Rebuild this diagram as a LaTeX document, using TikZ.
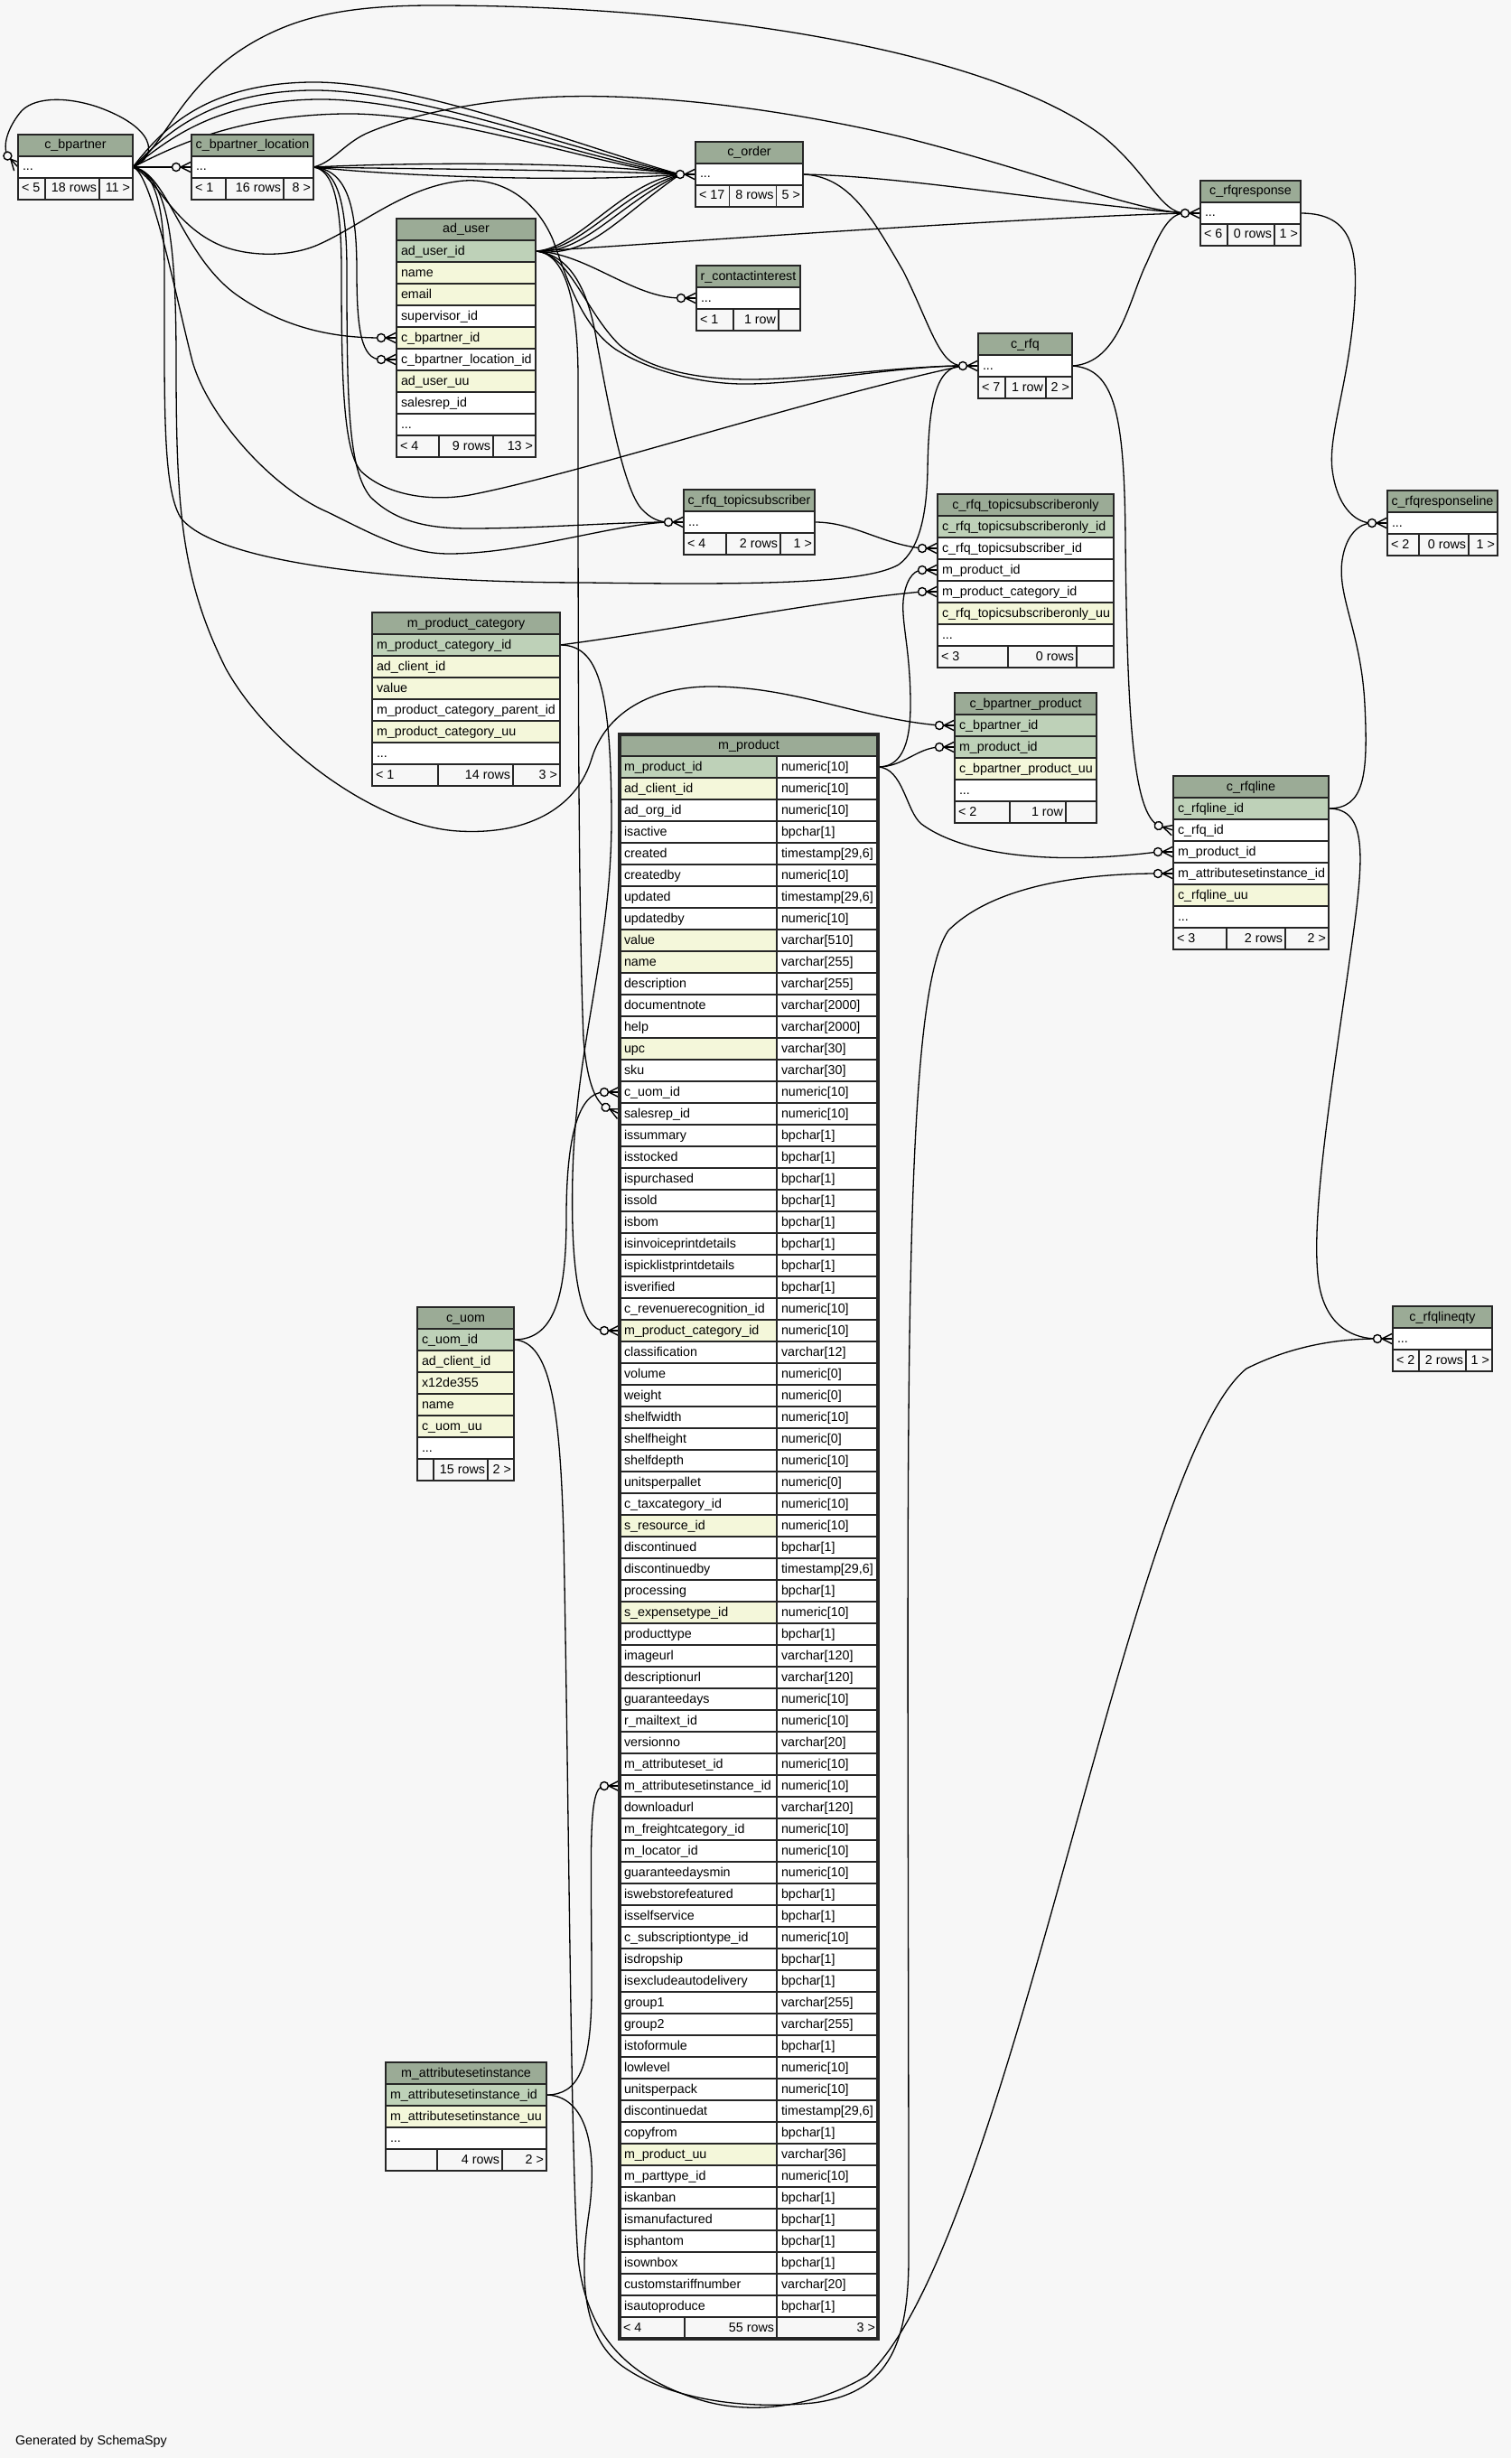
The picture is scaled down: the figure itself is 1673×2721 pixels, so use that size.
\documentclass[tikz,border=0pt]{standalone}
\usepackage{fontspec}
\setmainfont{Liberation Sans}
\definecolor{bgc}{HTML}{F7F7F7}
\definecolor{hdc}{HTML}{9BAB96}
\definecolor{pkc}{HTML}{BED1B8}
\definecolor{ixc}{HTML}{F4F7DA}
\definecolor{ftc}{HTML}{F7F7F7}
\tikzset{
  txt/.style={inner sep=0pt, outer sep=0pt, font=\fontsize{14.3}{16}\selectfont},
  cellline/.style={draw=black!85, line width=1.1pt},
  fk/.style={draw=black, line width=1.3pt},
  tframe/.style={draw=black!85, line width=1.6pt, inner sep=0pt, outer sep=0pt, anchor=north west},
  crowodot/.pic={
    \draw[line width=1.4pt] (-12.5,0) -- (0,0);
    \draw[line width=1.4pt] (-12,0) -- (0,-6);
    \draw[line width=1.4pt] (-12,0) -- (0,6);
    \draw[line width=1.4pt, fill=bgc] (-17,0) circle[radius=4.5pt];
  }
}
\newcommand{\tbhead}[5]{%
  \filldraw[fill=hdc, cellline] (#2,#4) rectangle (#3,#4+24);
  \node[txt, anchor=base] (#1) at ({(#2+#3)/2},#4+16) {#5};}
\newcommand{\tbrow}[6]{%
  \filldraw[fill=#5, cellline] (#2,#4) rectangle (#3,#4+24);
  \node[txt, anchor=base west] (#1) at (#2+5,#4+16) {#6};}
\newcommand{\tbfoot}[9]{%
  \filldraw[fill=ftc, cellline] (#2,#6) rectangle (#3,#6+24);
  \filldraw[fill=ftc, cellline] (#3,#6) rectangle (#4,#6+24);
  \filldraw[fill=ftc, cellline] (#4,#6) rectangle (#5,#6+24);
  \node[txt, anchor=base west] (#1-l) at (#2+4,#6+16) {#7};
  \node[txt, anchor=base east] (#1-m) at (#4-3,#6+16) {#8};
  \node[txt, anchor=base east] (#1-r) at (#5-3,#6+16) {#9};}
\newcommand{\mprow}[4]{%
  \pgfmathsetmacro{\mpyy}{837+24*#1}
  \filldraw[fill=#2, cellline] (686,\mpyy) rectangle (860,\mpyy+24);
  \filldraw[fill=white, cellline] (860,\mpyy) rectangle (972,\mpyy+24);
  \node[txt, anchor=base west] (mp-n#1) at (691,\mpyy+16) {#3};
  \node[txt, anchor=base west] (mp-t#1) at (865,\mpyy+16) {#4};}
\begin{document}
\catcode`\_=12
\begin{tikzpicture}[x=1pt,y=-1pt]
\useasboundingbox (0,0) rectangle (1673,2721);
\fill[bgc] (0,0) rectangle (1673,2721);

% parent ports
\coordinate (bpR) at (147,185);
\coordinate (bplR) at (347,185);
\coordinate (auR) at (593,278);
\coordinate (ordR) at (889,193);
\coordinate (rfqR) at (1187,405);
\coordinate (rfqrR) at (1440,236);
\coordinate (rfqlR) at (1471,895);
\coordinate (tsR) at (902,578);
\coordinate (mpcR) at (620,714);
\coordinate (mpR) at (972,849);
\coordinate (uomR) at (569,1483);
\coordinate (asiR) at (605,2319);
% child ports and circle centres
\coordinate (bpP) at (20,185);     \coordinate (bpC) at (8.4,172.6);
\coordinate (bplP) at (212,185);   \coordinate (bplC) at (195,185);
\coordinate (auBPp) at (439,374);  \coordinate (auBPc) at (422,374);
\coordinate (auBLp) at (439,398);  \coordinate (auBLc) at (422,398);
\coordinate (ordP) at (770,193);   \coordinate (ordC) at (753,193);
\coordinate (rciP) at (771,330);   \coordinate (rciC) at (754,330);
\coordinate (rfqrP) at (1329,236); \coordinate (rfqrC) at (1312,236);
\coordinate (rfqP) at (1083,405);  \coordinate (rfqC) at (1066,405);
\coordinate (tsP) at (757,578);    \coordinate (tsC) at (740,578);
\coordinate (tsoTSp) at (1038,607); \coordinate (tsoTSc) at (1021,607);
\coordinate (tsoMPp) at (1038,631); \coordinate (tsoMPc) at (1021,631);
\coordinate (tsoMCp) at (1038,655); \coordinate (tsoMCc) at (1021,655);
\coordinate (bppBPp) at (1057,803); \coordinate (bppBPc) at (1040,803);
\coordinate (bppMPp) at (1057,827); \coordinate (bppMPc) at (1040,827);
\coordinate (rlRFQp) at (1299,919); \coordinate (rlRFQc) at (1282.7,914.0);
\coordinate (rlMPp) at (1299,943);  \coordinate (rlMPc) at (1282,943);
\coordinate (rlASIp) at (1299,967); \coordinate (rlASIc) at (1282,967);
\coordinate (rrlP) at (1536,579);   \coordinate (rrlC) at (1519,579);
\coordinate (rlqP) at (1542,1482);  \coordinate (rlqC) at (1525,1482);
\coordinate (mpUOMp) at (686,1209); \coordinate (mpUOMc) at (669,1209);
\coordinate (mpSRp) at (686,1233);  \coordinate (mpSRc) at (670.6,1225.8);
\coordinate (mpMCp) at (686,1473);  \coordinate (mpMCc) at (669,1473);
\coordinate (mpASIp) at (686,1977); \coordinate (mpASIc) at (669,1977);

% ---------------- connectors ----------------
\draw[fk] (bpR) .. controls (178,172) and (170,140) .. (107,118) .. controls (70,106) and (35,108) .. (22,125) .. controls (10,140) and (2,160) .. (bpC);
\draw[fk] (bpR) -- (bplC);
\draw[fk] (bpR) .. controls (185,190) and (200,280) .. (260,325) .. controls (320,368) and (380,374) .. (auBPc);
\draw[fk] (bplR) .. controls (385,188) and (395,230) .. (395,300) .. controls (395,365) and (400,398) .. (auBLc);
\draw[fk] (bpR) .. controls (185,160) and (200,90) .. (287,43) .. controls (330,20) and (380,6) .. (480,6) .. controls (800,6) and (1100,60) .. (1220,150) .. controls (1270,190) and (1285,236) .. (rfqrC);
% c_bpartner -> c_order
\draw[fk] (bpR) .. controls (175,150) and (220,93) .. (343,91) .. controls (460,89) and (660,168) .. (ordC);
\draw[fk] (bpR) .. controls (178,155) and (225,102) .. (343,100) .. controls (460,98) and (660,174) .. (ordC);
\draw[fk] (bpR) .. controls (181,160) and (232,112) .. (350,110) .. controls (470,108) and (660,180) .. (ordC);
\draw[fk] (bpR) .. controls (186,166) and (255,128) .. (380,126) .. controls (500,124) and (670,186) .. (ordC);
% c_bpartner_location -> c_order
\draw[fk] (bplR) .. controls (450,180) and (650,178) .. (ordC);
\draw[fk] (bplR) .. controls (450,187) and (650,188) .. (ordC);
\draw[fk] (bplR) .. controls (450,196) and (650,202) .. (ordC);
% ad_user -> c_order
\draw[fk] (auR) .. controls (640,276) and (690,200) .. (ordC);
\draw[fk] (auR) .. controls (642,279) and (686,214) .. (ordC);
\draw[fk] (auR) .. controls (646,282) and (682,228) .. (ordC);
\draw[fk] (auR) .. controls (652,286) and (680,244) .. (ordC);
% to c_rfqresponse
\draw[fk] (bplR) .. controls (368,180) and (380,160) .. (405,148) .. controls (450,128) and (530,110) .. (620,107) .. controls (750,103) and (900,128) .. (1000,152) .. controls (1150,190) and (1250,232) .. (rfqrC);
\draw[fk] (auR) .. controls (700,272) and (1100,242) .. (rfqrC);
\draw[fk] (ordR) .. controls (1000,195) and (1150,222) .. (rfqrC);
\draw[fk] (rfqR) .. controls (1240,402) and (1250,330) .. (1270,290) .. controls (1285,255) and (1295,236) .. (rfqrC);
% r_contactinterest
\draw[fk] (auR) .. controls (650,280) and (700,330) .. (rciC);
% to c_rfq
\draw[fk] (ordR) .. controls (940,195) and (965,240) .. (1000,300) .. controls (1030,360) and (1040,405) .. (rfqC);
\draw[fk] (bpR) .. controls (175,198) and (192,250) .. (245,272) .. controls (275,284) and (320,285) .. (352,271) .. controls (400,250) and (450,205) .. (514,200) .. controls (560,197) and (595,225) .. (612,265) .. controls (625,300) and (642,360) .. (682,387) .. controls (722,412) and (780,426) .. (830,425) .. controls (900,424) and (1000,405) .. (rfqC);
\draw[fk] (auR) .. controls (630,280) and (648,345) .. (686,382) .. controls (722,412) and (780,420) .. (830,420) .. controls (900,420) and (1000,405) .. (rfqC);
\draw[fk] (bpR) .. controls (172,190) and (182,230) .. (182,300) .. controls (182,450) and (180,540) .. (200,573) .. controls (240,625) and (450,645) .. (650,645) .. controls (850,648) and (960,645) .. (995,625) .. controls (1018,608) and (1026,570) .. (1027,520) .. controls (1028,450) and (1035,405) .. (rfqC);
\draw[fk] (bplR) .. controls (368,188) and (378,220) .. (378,300) .. controls (378,420) and (380,500) .. (400,522) .. controls (430,550) and (480,555) .. (520,548) .. controls (640,525) and (900,440) .. (rfqC);
% to c_rfq_topicsubscriber
\draw[fk] (auR) .. controls (632,282) and (652,322) .. (661,380) .. controls (674,450) and (690,540) .. (710,563) .. controls (720,574) and (730,578) .. (tsC);
\draw[fk] (bpR) .. controls (168,190) and (195,330) .. (213,400) .. controls (230,460) and (300,540) .. (363,567) .. controls (410,590) and (450,613) .. (497,613) .. controls (580,613) and (680,580) .. (tsC);
\draw[fk] (bplR) .. controls (372,188) and (384,220) .. (384,300) .. controls (384,450) and (386,520) .. (410,550) .. controls (440,580) and (480,585) .. (520,585) .. controls (600,585) and (680,578) .. (tsC);
% c_bpartner -> c_bpartner_product
\draw[fk] (bpR) .. controls (185,195) and (195,260) .. (195,400) .. controls (195,560) and (200,640) .. (250,740) .. controls (300,830) and (420,915) .. (507,920) .. controls (590,925) and (640,890) .. (655,840) .. controls (670,790) and (720,760) .. (787,760) .. controls (880,760) and (950,795) .. (bppBPc);
% c_rfq -> c_rfqline
\draw[fk] (rfqR) .. controls (1235,408) and (1245,460) .. (1246,600) .. controls (1248,800) and (1255,900) .. (rlRFQc);
% c_rfqresponse -> c_rfqresponseline
\draw[fk] (rfqrR) .. controls (1500,236) and (1502,280) .. (1500,330) .. controls (1495,420) and (1470,480) .. (1475,520) .. controls (1480,560) and (1500,579) .. (rrlC);
% c_rfqline -> c_rfqresponseline / c_rfqlineqty
\draw[fk] (rfqlR) .. controls (1510,895) and (1515,860) .. (1511,780) .. controls (1507,700) and (1480,660) .. (1486,620) .. controls (1490,592) and (1505,579) .. (rrlC);
\draw[fk] (rfqlR) .. controls (1515,895) and (1510,950) .. (1496,1050) .. controls (1475,1200) and (1450,1350) .. (1460,1420) .. controls (1468,1470) and (1500,1482) .. (rlqC);
% c_rfq_topicsubscriber -> only
\draw[fk] (tsR) .. controls (945,578) and (975,602) .. (tsoTSc);
% m_product children
\draw[fk] (mpR) .. controls (995,849) and (1008,830) .. (1008,780) .. controls (1008,720) and (998,690) .. (1000,665) .. controls (1002,645) and (1010,631) .. (tsoMPc);
\draw[fk] (mpR) .. controls (1000,849) and (1015,828) .. (bppMPc);
\draw[fk] (mpR) .. controls (1000,850) and (1003,898) .. (1020,912) .. controls (1060,942) and (1150,960) .. (rlMPc);
% m_product_category children
\draw[fk] (mpcR) .. controls (750,697) and (900,666) .. (tsoMCc);
\draw[fk] (mpcR) .. controls (662,714) and (676,760) .. (677,900) .. controls (678,1050) and (638,1150) .. (634,1300) .. controls (631,1420) and (645,1473) .. (mpMCc);
% c_uom children
\draw[fk] (uomR) .. controls (612,1483) and (627,1440) .. (627,1347) .. controls (627,1260) and (640,1209) .. (mpUOMc);
\draw[fk] (uomR) .. controls (610,1485) and (620,1560) .. (624,1700) .. controls (630,2000) and (632,2400) .. (640,2500) .. controls (650,2590) and (700,2632) .. (770,2655) .. controls (830,2675) and (900,2665) .. (960,2630) .. controls (1120,2480) and (1250,1620) .. (1380,1515) .. controls (1430,1490) and (1480,1482) .. (rlqC);
% ad_user -> m_product.salesrep_id
\draw[fk] (auR) .. controls (625,280) and (640,330) .. (640,420) .. controls (640,700) and (640,1000) .. (646,1150) .. controls (650,1200) and (660,1220) .. (mpSRc);
% m_attributesetinstance children
\draw[fk] (asiR) .. controls (640,2319) and (655,2290) .. (655,2200) .. controls (655,2050) and (650,1977) .. (mpASIc);
\draw[fk] (asiR) .. controls (650,2320) and (662,2380) .. (652,2450) .. controls (640,2530) and (648,2590) .. (690,2620) .. controls (740,2655) and (820,2668) .. (900,2660) .. controls (980,2650) and (1006,2600) .. (1006,2500) .. controls (1006,1600) and (995,1110) .. (1050,1030) .. controls (1100,980) and (1200,967) .. (rlASIc);

% ---------------- markers ----------------
\pic[rotate=-47] at (bpP) {crowodot};
\pic at (bplP) {crowodot};
\pic at (auBPp) {crowodot};
\pic at (auBLp) {crowodot};
\pic at (ordP) {crowodot};
\pic at (rciP) {crowodot};
\pic at (rfqrP) {crowodot};
\pic at (rfqP) {crowodot};
\pic at (tsP) {crowodot};
\pic at (tsoTSp) {crowodot};
\pic at (tsoMPp) {crowodot};
\pic at (tsoMCp) {crowodot};
\pic at (bppBPp) {crowodot};
\pic at (bppMPp) {crowodot};
\pic[rotate=-17] at (rlRFQp) {crowodot};
\pic at (rlMPp) {crowodot};
\pic at (rlASIp) {crowodot};
\pic at (rrlP) {crowodot};
\pic at (rlqP) {crowodot};
\pic at (mpUOMp) {crowodot};
\pic[rotate=-25] at (mpSRp) {crowodot};
\pic at (mpMCp) {crowodot};
\pic at (mpASIp) {crowodot};

% ---------------- tables ----------------
% c_bpartner
\tbhead{bp-h}{20}{147}{149}{c_bpartner}
\tbrow{bp-r1}{20}{147}{173}{white}{...}
\tbfoot{bp-f}{20}{50}{110}{147}{197}{< 5}{18 rows}{11 >}
\node[tframe, minimum width=127pt, minimum height=72pt] (bp) at (20,149) {};
% c_bpartner_location
\tbhead{bpl-h}{212}{347}{149}{c_bpartner_location}
\tbrow{bpl-r1}{212}{347}{173}{white}{...}
\tbfoot{bpl-f}{212}{250}{314}{347}{197}{< 1}{16 rows}{8 >}
\node[tframe, minimum width=135pt, minimum height=72pt] (bpl) at (212,149) {};
% ad_user
\tbhead{au-h}{439}{593}{242}{ad_user}
\tbrow{au-r1}{439}{593}{266}{pkc}{ad_user_id}
\tbrow{au-r2}{439}{593}{290}{ixc}{name}
\tbrow{au-r3}{439}{593}{314}{ixc}{email}
\tbrow{au-r4}{439}{593}{338}{white}{supervisor_id}
\tbrow{au-r5}{439}{593}{362}{ixc}{c_bpartner_id}
\tbrow{au-r6}{439}{593}{386}{white}{c_bpartner_location_id}
\tbrow{au-r7}{439}{593}{410}{ixc}{ad_user_uu}
\tbrow{au-r8}{439}{593}{434}{white}{salesrep_id}
\tbrow{au-r9}{439}{593}{458}{white}{...}
\tbfoot{au-f}{439}{486}{546}{593}{482}{< 4}{9 rows}{13 >}
\node[tframe, minimum width=154pt, minimum height=264pt] (au) at (439,242) {};
% c_order
\tbhead{ord-h}{770}{889}{157}{c_order}
\tbrow{ord-r1}{770}{889}{181}{white}{...}
\tbfoot{ord-f}{770}{807.5}{859.6}{889}{205}{< 17}{8 rows}{5 >}
\node[tframe, minimum width=119pt, minimum height=72pt] (ord) at (770,157) {};
% r_contactinterest
\tbhead{rci-h}{771}{886}{294}{r_contactinterest}
\tbrow{rci-r1}{771}{886}{318}{white}{...}
\tbfoot{rci-f}{771}{812}{862}{886}{342}{< 1}{1 row}{}
\node[tframe, minimum width=115pt, minimum height=72pt] (rci) at (771,294) {};
% c_rfqresponse
\tbhead{rfqr-h}{1329}{1440}{200}{c_rfqresponse}
\tbrow{rfqr-r1}{1329}{1440}{224}{white}{...}
\tbfoot{rfqr-f}{1329}{1359}{1411}{1440}{248}{< 6}{0 rows}{1 >}
\node[tframe, minimum width=111pt, minimum height=72pt] (rfqr) at (1329,200) {};
% c_rfq
\tbhead{rfq-h}{1083}{1187}{369}{c_rfq}
\tbrow{rfq-r1}{1083}{1187}{393}{white}{...}
\tbfoot{rfq-f}{1083}{1113}{1158}{1187}{417}{< 7}{1 row}{2 >}
\node[tframe, minimum width=104pt, minimum height=72pt] (rfq) at (1083,369) {};
% c_rfq_topicsubscriber
\tbhead{ts-h}{757}{902}{542}{c_rfq_topicsubscriber}
\tbrow{ts-r1}{757}{902}{566}{white}{...}
\tbfoot{ts-f}{757}{804}{864}{902}{590}{< 4}{2 rows}{1 >}
\node[tframe, minimum width=145pt, minimum height=72pt] (ts) at (757,542) {};
% c_rfq_topicsubscriberonly
\tbhead{tso-h}{1038}{1233}{547}{c_rfq_topicsubscriberonly}
\tbrow{tso-r1}{1038}{1233}{571}{pkc}{c_rfq_topicsubscriberonly_id}
\tbrow{tso-r2}{1038}{1233}{595}{white}{c_rfq_topicsubscriber_id}
\tbrow{tso-r3}{1038}{1233}{619}{white}{m_product_id}
\tbrow{tso-r4}{1038}{1233}{643}{white}{m_product_category_id}
\tbrow{tso-r5}{1038}{1233}{667}{ixc}{c_rfq_topicsubscriberonly_uu}
\tbrow{tso-r6}{1038}{1233}{691}{white}{...}
\tbfoot{tso-f}{1038}{1116}{1192}{1233}{715}{< 3}{0 rows}{}
\node[tframe, minimum width=195pt, minimum height=192pt] (tso) at (1038,547) {};
% c_rfqresponseline
\tbhead{rrl-h}{1536}{1658}{543}{c_rfqresponseline}
\tbrow{rrl-r1}{1536}{1658}{567}{white}{...}
\tbfoot{rrl-f}{1536}{1571}{1626}{1658}{591}{< 2}{0 rows}{1 >}
\node[tframe, minimum width=122pt, minimum height=72pt] (rrl) at (1536,543) {};
% m_product_category
\tbhead{mpc-h}{412}{620}{678}{m_product_category}
\tbrow{mpc-r1}{412}{620}{702}{pkc}{m_product_category_id}
\tbrow{mpc-r2}{412}{620}{726}{ixc}{ad_client_id}
\tbrow{mpc-r3}{412}{620}{750}{ixc}{value}
\tbrow{mpc-r4}{412}{620}{774}{white}{m_product_category_parent_id}
\tbrow{mpc-r5}{412}{620}{798}{ixc}{m_product_category_uu}
\tbrow{mpc-r6}{412}{620}{822}{white}{...}
\tbfoot{mpc-f}{412}{485}{568}{620}{846}{< 1}{14 rows}{3 >}
\node[tframe, minimum width=208pt, minimum height=192pt] (mpc) at (412,678) {};
% c_bpartner_product
\tbhead{bpp-h}{1057}{1214}{767}{c_bpartner_product}
\tbrow{bpp-r1}{1057}{1214}{791}{pkc}{c_bpartner_id}
\tbrow{bpp-r2}{1057}{1214}{815}{pkc}{m_product_id}
\tbrow{bpp-r3}{1057}{1214}{839}{ixc}{c_bpartner_product_uu}
\tbrow{bpp-r4}{1057}{1214}{863}{white}{...}
\tbfoot{bpp-f}{1057}{1118}{1180}{1214}{887}{< 2}{1 row}{}
\node[tframe, minimum width=157pt, minimum height=144pt] (bpp) at (1057,767) {};
% c_rfqline
\tbhead{rl-h}{1299}{1471}{859}{c_rfqline}
\tbrow{rl-r1}{1299}{1471}{883}{pkc}{c_rfqline_id}
\tbrow{rl-r2}{1299}{1471}{907}{white}{c_rfq_id}
\tbrow{rl-r3}{1299}{1471}{931}{white}{m_product_id}
\tbrow{rl-r4}{1299}{1471}{955}{white}{m_attributesetinstance_id}
\tbrow{rl-r5}{1299}{1471}{979}{ixc}{c_rfqline_uu}
\tbrow{rl-r6}{1299}{1471}{1003}{white}{...}
\tbfoot{rl-f}{1299}{1358}{1423}{1471}{1027}{< 3}{2 rows}{2 >}
\node[tframe, minimum width=172pt, minimum height=192pt] (rl) at (1299,859) {};
% c_uom
\tbhead{uom-h}{462}{569}{1447}{c_uom}
\tbrow{uom-r1}{462}{569}{1471}{pkc}{c_uom_id}
\tbrow{uom-r2}{462}{569}{1495}{ixc}{ad_client_id}
\tbrow{uom-r3}{462}{569}{1519}{ixc}{x12de355}
\tbrow{uom-r4}{462}{569}{1543}{ixc}{name}
\tbrow{uom-r5}{462}{569}{1567}{ixc}{c_uom_uu}
\tbrow{uom-r6}{462}{569}{1591}{white}{...}
\tbfoot{uom-f}{462}{480}{540}{569}{1615}{}{15 rows}{2 >}
\node[tframe, minimum width=107pt, minimum height=192pt] (uom) at (462,1447) {};
% c_rfqlineqty
\tbhead{rlq-h}{1542}{1652}{1446}{c_rfqlineqty}
\tbrow{rlq-r1}{1542}{1652}{1470}{white}{...}
\tbfoot{rlq-f}{1542}{1571}{1623}{1652}{1494}{< 2}{2 rows}{1 >}
\node[tframe, minimum width=110pt, minimum height=72pt] (rlq) at (1542,1446) {};
% m_attributesetinstance
\tbhead{asi-h}{427}{605}{2283}{m_attributesetinstance}
\tbrow{asi-r1}{427}{605}{2307}{pkc}{m_attributesetinstance_id}
\tbrow{asi-r2}{427}{605}{2331}{ixc}{m_attributesetinstance_uu}
\tbrow{asi-r3}{427}{605}{2355}{white}{...}
\tbfoot{asi-f}{427}{484}{556}{605}{2379}{}{4 rows}{2 >}
\node[tframe, minimum width=178pt, minimum height=120pt] (asi) at (427,2283) {};
% m_product
\tbhead{mp-h}{686}{972}{813}{m_product}
\mprow{0}{pkc}{m_product_id}{numeric[10]}
\mprow{1}{ixc}{ad_client_id}{numeric[10]}
\mprow{2}{white}{ad_org_id}{numeric[10]}
\mprow{3}{white}{isactive}{bpchar[1]}
\mprow{4}{white}{created}{timestamp[29,6]}
\mprow{5}{white}{createdby}{numeric[10]}
\mprow{6}{white}{updated}{timestamp[29,6]}
\mprow{7}{white}{updatedby}{numeric[10]}
\mprow{8}{ixc}{value}{varchar[510]}
\mprow{9}{ixc}{name}{varchar[255]}
\mprow{10}{white}{description}{varchar[255]}
\mprow{11}{white}{documentnote}{varchar[2000]}
\mprow{12}{white}{help}{varchar[2000]}
\mprow{13}{ixc}{upc}{varchar[30]}
\mprow{14}{white}{sku}{varchar[30]}
\mprow{15}{white}{c_uom_id}{numeric[10]}
\mprow{16}{white}{salesrep_id}{numeric[10]}
\mprow{17}{white}{issummary}{bpchar[1]}
\mprow{18}{white}{isstocked}{bpchar[1]}
\mprow{19}{white}{ispurchased}{bpchar[1]}
\mprow{20}{white}{issold}{bpchar[1]}
\mprow{21}{white}{isbom}{bpchar[1]}
\mprow{22}{white}{isinvoiceprintdetails}{bpchar[1]}
\mprow{23}{white}{ispicklistprintdetails}{bpchar[1]}
\mprow{24}{white}{isverified}{bpchar[1]}
\mprow{25}{white}{c_revenuerecognition_id}{numeric[10]}
\mprow{26}{ixc}{m_product_category_id}{numeric[10]}
\mprow{27}{white}{classification}{varchar[12]}
\mprow{28}{white}{volume}{numeric[0]}
\mprow{29}{white}{weight}{numeric[0]}
\mprow{30}{white}{shelfwidth}{numeric[10]}
\mprow{31}{white}{shelfheight}{numeric[0]}
\mprow{32}{white}{shelfdepth}{numeric[10]}
\mprow{33}{white}{unitsperpallet}{numeric[0]}
\mprow{34}{white}{c_taxcategory_id}{numeric[10]}
\mprow{35}{ixc}{s_resource_id}{numeric[10]}
\mprow{36}{white}{discontinued}{bpchar[1]}
\mprow{37}{white}{discontinuedby}{timestamp[29,6]}
\mprow{38}{white}{processing}{bpchar[1]}
\mprow{39}{ixc}{s_expensetype_id}{numeric[10]}
\mprow{40}{white}{producttype}{bpchar[1]}
\mprow{41}{white}{imageurl}{varchar[120]}
\mprow{42}{white}{descriptionurl}{varchar[120]}
\mprow{43}{white}{guaranteedays}{numeric[10]}
\mprow{44}{white}{r_mailtext_id}{numeric[10]}
\mprow{45}{white}{versionno}{varchar[20]}
\mprow{46}{white}{m_attributeset_id}{numeric[10]}
\mprow{47}{white}{m_attributesetinstance_id}{numeric[10]}
\mprow{48}{white}{downloadurl}{varchar[120]}
\mprow{49}{white}{m_freightcategory_id}{numeric[10]}
\mprow{50}{white}{m_locator_id}{numeric[10]}
\mprow{51}{white}{guaranteedaysmin}{numeric[10]}
\mprow{52}{white}{iswebstorefeatured}{bpchar[1]}
\mprow{53}{white}{isselfservice}{bpchar[1]}
\mprow{54}{white}{c_subscriptiontype_id}{numeric[10]}
\mprow{55}{white}{isdropship}{bpchar[1]}
\mprow{56}{white}{isexcludeautodelivery}{bpchar[1]}
\mprow{57}{white}{group1}{varchar[255]}
\mprow{58}{white}{group2}{varchar[255]}
\mprow{59}{white}{istoformule}{bpchar[1]}
\mprow{60}{white}{lowlevel}{numeric[10]}
\mprow{61}{white}{unitsperpack}{numeric[10]}
\mprow{62}{white}{discontinuedat}{timestamp[29,6]}
\mprow{63}{white}{copyfrom}{bpchar[1]}
\mprow{64}{ixc}{m_product_uu}{varchar[36]}
\mprow{65}{white}{m_parttype_id}{numeric[10]}
\mprow{66}{white}{iskanban}{bpchar[1]}
\mprow{67}{white}{ismanufactured}{bpchar[1]}
\mprow{68}{white}{isphantom}{bpchar[1]}
\mprow{69}{white}{isownbox}{bpchar[1]}
\mprow{70}{white}{customstariffnumber}{varchar[20]}
\mprow{71}{white}{isautoproduce}{bpchar[1]}
\tbfoot{mp-f}{686}{758}{860}{972}{2565}{< 4}{55 rows}{3 >}
\node[tframe, line width=3.5pt, minimum width=286pt, minimum height=1776pt] (mp) at (686,813) {};

\node[txt, anchor=base west] (gen) at (17,2706) {Generated by SchemaSpy};
\end{tikzpicture}
\end{document}
